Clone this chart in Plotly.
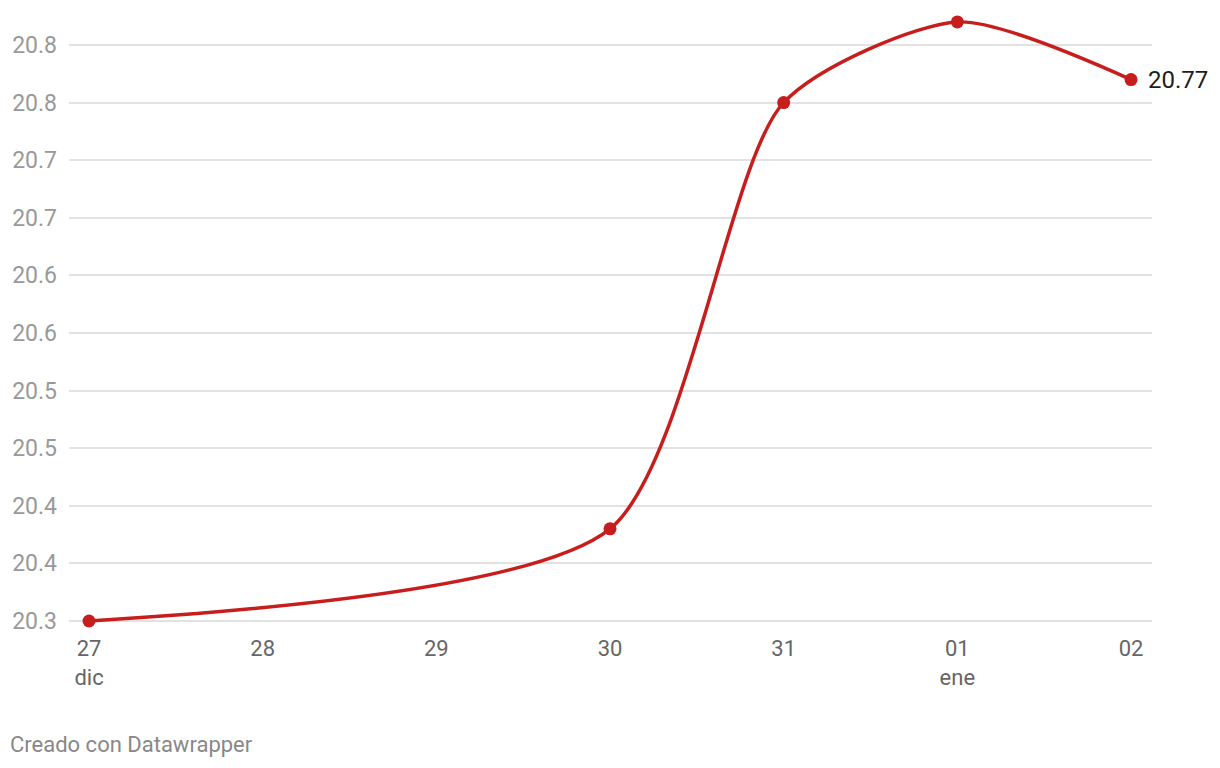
import plotly.graph_objects as go

dates = ["2024-12-27", "2024-12-30", "2024-12-31", "2025-01-01", "2025-01-02"]
values = [20.30, 20.38, 20.75, 20.82, 20.77]

xtick_vals = ["2024-12-27", "2024-12-28", "2024-12-29", "2024-12-30", "2024-12-31", "2025-01-01", "2025-01-02"]
xtick_text = ["27<br>dic", "28", "29", "30", "31", "01<br>ene", "02"]

ytick_vals = [20.30, 20.35, 20.40, 20.45, 20.50, 20.55, 20.60, 20.65, 20.70, 20.75, 20.80]
ytick_text = ["20.3", "20.4", "20.4", "20.5", "20.5", "20.6", "20.6", "20.7", "20.7", "20.8", "20.8"]

RED = "#c71e1d"
W, H = 1204, 752
ML, MR, MT, MB = 61, 60, 2, 130
PW, PH = W - ML - MR, H - MT - MB

fig = go.Figure()
fig.add_trace(go.Scatter(
    x=dates, y=values, mode="lines+markers",
    line=dict(color=RED, width=3.5, shape="spline", smoothing=0.7),
    marker=dict(color=RED, size=13),
    hoverinfo="skip", showlegend=False,
))

fig.add_annotation(x=dates[-1], y=values[-1], text=f"{values[-1]:.2f}",
                   xanchor="left", yanchor="middle", xshift=15, showarrow=False,
                   font=dict(family="Roboto", size=24, color="#1d1d1d"))

fig.add_annotation(xref="paper", yref="paper", x=(0 - ML) / PW, y=(MT + PH - 736) / PH,
                   text="Creado con Datawrapper", xanchor="left", yanchor="middle",
                   showarrow=False, font=dict(family="Roboto", size=22, color="#888888"))

fig.update_layout(
    width=W, height=H,
    margin=dict(l=ML, r=MR, t=MT, b=MB),
    paper_bgcolor="white", plot_bgcolor="white",
    font=dict(family="Roboto"),
    xaxis=dict(
        range=["2024-12-26 21:14", "2025-01-02 02:54"],
        tickmode="array", tickvals=xtick_vals, ticktext=xtick_text,
        showgrid=False, zeroline=False, showline=False, ticks="",
        ticklabelstandoff=3,
        tickfont=dict(family="Roboto", size=22, color="#666666"),
        automargin=False, fixedrange=True,
    ),
    yaxis=dict(
        range=[20.3 - 9 / 1152, 20.8 + 35 / 1152],
        tickmode="array", tickvals=ytick_vals, ticktext=ytick_text,
        showgrid=True, gridcolor="#e2e2e2", gridwidth=1.5,
        zeroline=False, showline=False, ticks="",
        ticklabelstandoff=11,
        tickfont=dict(family="Roboto", size=23, color="#999999"),
        automargin=False, fixedrange=True,
    ),
)

fig.write_html("out.html")
